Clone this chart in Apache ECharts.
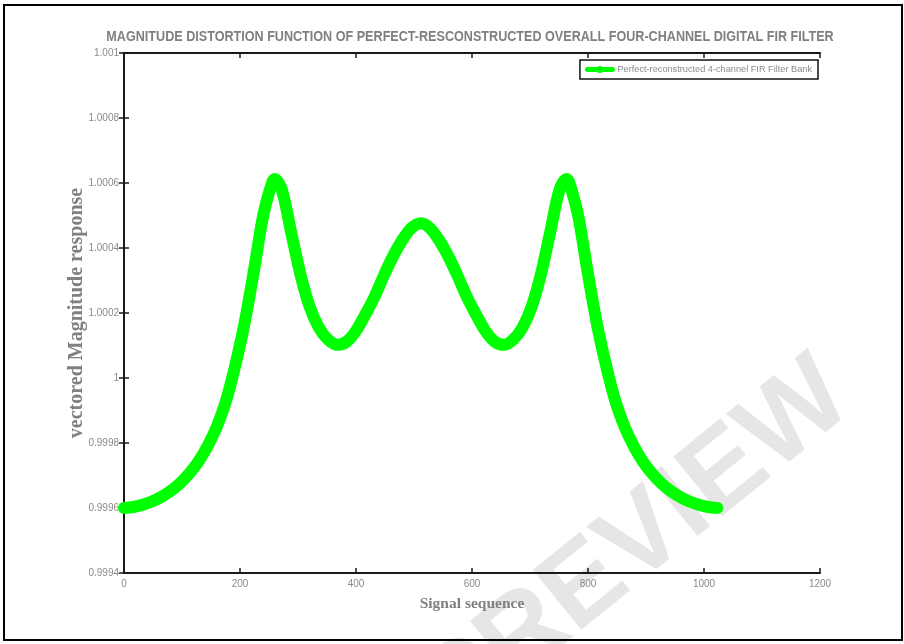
<!DOCTYPE html>
<html>
<head>
<meta charset="utf-8">
<script src="https://cdn.jsdelivr.net/npm/echarts@6/dist/echarts.min.js"></script>
<style>
  html, body { margin: 0; padding: 0; background: #fff; }
  #chart { width: 904px; height: 644px; }
</style>
</head>
<body>
<div id="chart"></div>
<script>
// Signal sequence sample positions
const sampleIndex = [
  0, 16, 32, 48, 64, 80, 96, 112, 128, 144, 160, 176, 192, 208, 224, 240,
  256, 260, 272, 288, 304, 320, 336, 352, 368, 384, 400, 416, 432, 448, 464,
  480, 496, 512,
  527, 543, 559, 575, 591, 607, 623, 639, 655, 671, 687, 703, 719, 735, 751,
  763, 767, 783, 799, 815, 831, 847, 863, 879, 895, 911, 927, 943, 959, 975,
  991, 1007, 1023
];
// Magnitude response of the overall 4-channel filter bank
const magnitude = [
  0.999600, 0.999603, 0.999610, 0.999620, 0.999634, 0.999652, 0.999675,
  0.999705, 0.999742, 0.999790, 0.999850, 0.999930, 1.000040, 1.000170,
  1.000330, 1.000500, 1.000605, 1.000612, 1.000580, 1.000450, 1.000320,
  1.000220, 1.000155, 1.000118, 1.000102, 1.000112, 1.000145, 1.000195,
  1.000250, 1.000315, 1.000375, 1.000425, 1.000462, 1.000476,
  1.000462, 1.000425, 1.000375, 1.000315, 1.000250, 1.000195, 1.000145,
  1.000112, 1.000102, 1.000118, 1.000155, 1.000220, 1.000320, 1.000450,
  1.000580, 1.000612, 1.000605, 1.000500, 1.000330, 1.000170, 1.000040,
  0.999930, 0.999850, 0.999790, 0.999742, 0.999705, 0.999675, 0.999652,
  0.999634, 0.999620, 0.999610, 0.999603, 0.999600
];
const xTicks = [0, 200, 400, 600, 800, 1000, 1200];
const yTicks = [0.9994, 0.9996, 0.9998, 1, 1.0002, 1.0004, 1.0006, 1.0008, 1.001];

const seriesName = 'Perfect-reconstructed 4-channel FIR Filter Bank';
const chartTitle = 'MAGNITUDE DISTORTION FUNCTION OF PERFECT-RESCONSTRUCTED OVERALL FOUR-CHANNEL DIGITAL FIR FILTER';

const sans = '"Liberation Sans", Arial, sans-serif';
const serif = '"Liberation Serif", "DejaVu Serif", serif';

const points = sampleIndex.map((n, i) => [n, magnitude[i]]);

const tickLabel = { color: '#8a8a8a', fontFamily: sans, fontSize: 10 };
const axisLine = { show: true, lineStyle: { color: '#1a1a1a', width: 2 } };
const axisTick = { show: true, inside: true, length: 5, lineStyle: { color: '#1a1a1a', width: 1.5 } };

const chart = echarts.init(document.getElementById('chart'), null, { renderer: 'canvas' });
chart.setOption({
  animation: false,
  backgroundColor: '#ffffff',
  legend: {
    right: 86,
    top: 60,
    orient: 'horizontal',
    backgroundColor: '#ffffff',
    borderColor: '#111',
    borderWidth: 1.5,
    padding: [5, 6, 5, 5],
    itemWidth: 25,
    itemHeight: 9,
    itemGap: 4,
    textStyle: { color: '#8a8a8a', fontFamily: sans, fontSize: 9.2 },
    itemStyle: { color: '#00ff00' },
    lineStyle: { width: 5, color: '#00ff00' },
    data: [seriesName]
  },
  grid: { left: 124, right: 84, top: 53, bottom: 71, containLabel: false },
  xAxis: [{
    type: 'value',
    min: xTicks[0],
    max: xTicks[xTicks.length - 1],
    interval: 200,
    name: 'Signal sequence',
    nameLocation: 'middle',
    nameGap: 23,
    nameMoveOverlap: false,
    nameTextStyle: { color: '#808080', fontFamily: serif, fontWeight: 'bold', fontSize: 15.5 },
    axisLine, axisTick,
    axisLabel: Object.assign({ margin: 6, formatter: v => String(v) }, tickLabel),
    splitLine: { show: false }
  }, {
    type: 'value', position: 'top',
    min: xTicks[0], max: xTicks[xTicks.length - 1], interval: 200,
    axisLine, axisTick, axisLabel: { show: false }, splitLine: { show: false }
  }],
  yAxis: [{
    type: 'value',
    min: yTicks[0],
    max: yTicks[yTicks.length - 1],
    interval: 0.0002,
    name: 'vectored Magnitude response',
    nameLocation: 'middle',
    nameGap: 37,
    nameMoveOverlap: false,
    nameTextStyle: { color: '#808080', fontFamily: serif, fontWeight: 'bold', fontSize: 20 },
    axisLine, axisTick,
    axisLabel: Object.assign({
      margin: 5,
      formatter: v => {
        const hit = yTicks.find(t => Math.abs(t - v) < 1e-9);
        return hit === undefined ? '' : String(hit);
      }
    }, tickLabel),
    splitLine: { show: false }
  }, {
    type: 'value', position: 'right',
    min: yTicks[0], max: yTicks[yTicks.length - 1], interval: 0.0002,
    axisLine, axisTick, axisLabel: { show: false }, splitLine: { show: false }
  }],
  series: [{
    name: seriesName,
    type: 'line',
    xAxisIndex: 0,
    yAxisIndex: 0,
    data: points,
    smooth: 0.3,
    symbol: 'circle',
    symbolSize: 8,
    showSymbol: false,
    z: 3,
    itemStyle: { color: '#00ff00' },
    lineStyle: { color: '#00ff00', width: 12, cap: 'round', join: 'round' }
  }],
  graphic: [
    {
      type: 'text',
      z: -5,
      x: 636,
      y: 546,
      rotation: 0.68,
      style: {
        text: 'PREVIEW',
        fill: '#e6e6e6',
        font: 'bold 112px "Liberation Sans", Arial, sans-serif',
        textAlign: 'center',
        textVerticalAlign: 'middle'
      }
    },
    {
      // condensed bold heading
      type: 'text',
      z: 5,
      x: 470,
      y: 37,
      scaleX: 0.9,
      style: {
        text: chartTitle,
        fill: '#7f7f7f',
        font: 'bold 14px "Liberation Sans", Arial, sans-serif',
        textAlign: 'center',
        textVerticalAlign: 'middle'
      }
    },
    {
      type: 'rect',
      z: 10,
      shape: { x: 4, y: 5, width: 898, height: 635 },
      style: { fill: 'none', stroke: '#000', lineWidth: 2 }
    }
  ]
});
</script>
</body>
</html>
